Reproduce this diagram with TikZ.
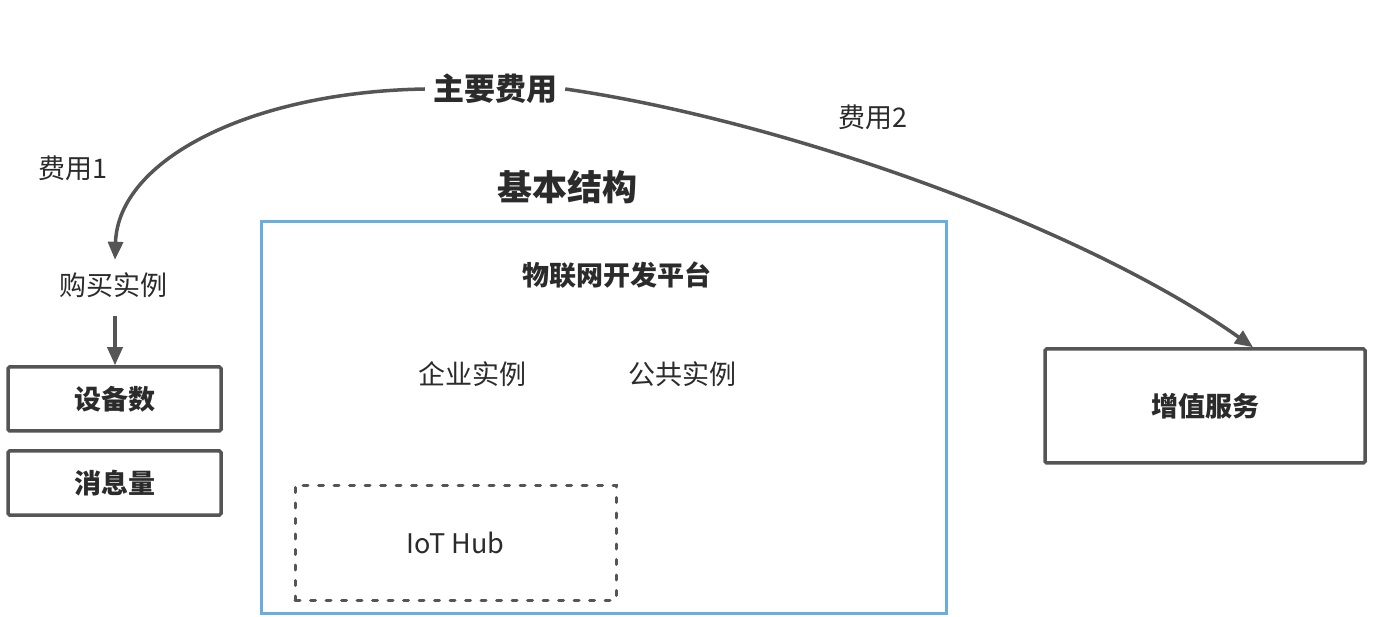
\documentclass[tikz,border=0pt]{standalone}
\usepackage{fontspec}
\setmainfont{Noto Sans CJK SC}
\usetikzlibrary{arrows.meta}
\definecolor{txt}{HTML}{2B2B2B}
\definecolor{edgec}{HTML}{555555}
\definecolor{blueb}{HTML}{6AAEDE}
\begin{document}
\begin{tikzpicture}[x=1pt,y=-1pt,
  lbl/.style={font=\fontsize{27}{32}\selectfont, text=txt, inner sep=0pt},
  blbl/.style={font=\fontsize{27}{32}\selectfont\bfseries, text=txt, inner sep=0pt},
  graybox/.style={draw=edgec, line width=3.5pt, rounded corners=1.5pt, font=\fontsize{27}{32}\selectfont\bfseries, text=txt, inner sep=0pt},
  conn/.style={draw=edgec, line width=3.5pt, -{Triangle[length=18pt,width=15pt]}}
]
\useasboundingbox[fill=white] (0,0) rectangle (1374,617);

% main platform frame
\node[draw=blueb, line width=3pt, minimum width=685pt, minimum height=391pt, inner sep=0pt] (platform) at (603.5,417.5) {};
\node[blbl] (platt) at (617,275) {物联网开发平台};
\node[lbl] (ent) at (472,374) {企业实例};
\node[lbl] (pub) at (682,374) {公共实例};
\node[draw=edgec, line width=3pt, line cap=round, dash pattern=on 5pt off 10.5pt, minimum width=321pt, minimum height=115pt, inner sep=0pt, font=\fontsize{27}{32}\selectfont, text=txt] (hub) at (455.5,542.5) {IoT Hub};

\node[font=\fontsize{35}{40}\selectfont\bfseries, text=txt, inner sep=0pt] (basic) at (567,187) {基本结构};

% main cost
\node[font=\fontsize{31}{36}\selectfont\bfseries, text=txt, inner xsep=8pt, inner ysep=0pt] (main) at (495,89) {主要费用};

% left branch
\node[lbl] (fee1) at (73,168) {费用1};
\node[lbl, text height=20pt, text depth=4pt, inner xsep=0pt, inner ysep=16pt] (buy) at (113,288) {购买实例};
\node[graybox, minimum width=213pt, minimum height=64pt] (dev) at (114.5,399) {设备数};
\node[graybox, minimum width=213pt, minimum height=64pt] (msg) at (114.5,483) {消息量};

% right branch
\node[lbl] (fee2) at (873,117) {费用2};
\node[graybox, minimum width=320pt, minimum height=114pt] (vas) at (1205,406) {增值服务};

% connectors
\draw[conn] (main.west) .. controls (250,92) and (118,160) .. ([xshift=2pt]buy.north);
\draw[conn] ([xshift=2pt]buy.south) -- ([xshift=0.5pt]dev.north);
\draw[conn] (main.east) .. controls (780,120) and (1080,225) .. ([xshift=48pt]vas.north);
\end{tikzpicture}
\end{document}
